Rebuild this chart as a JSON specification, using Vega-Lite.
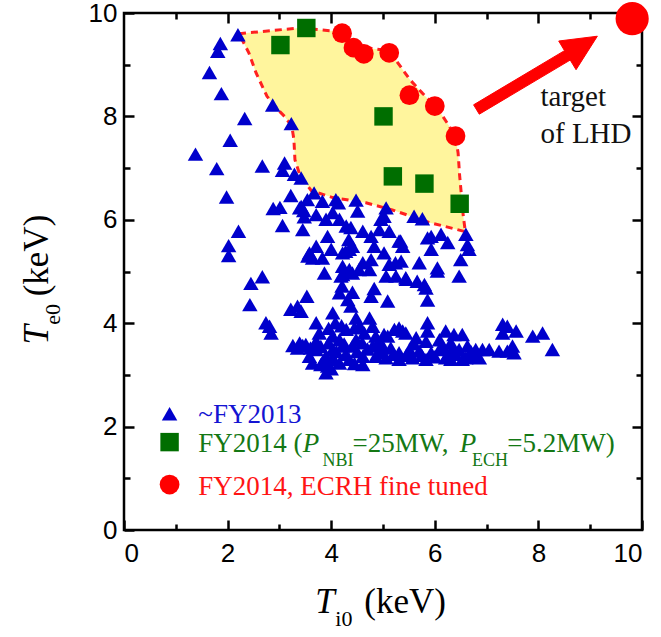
{
  "$schema": "https://vega.github.io/schema/vega-lite/v6.json",
  "width": 518,
  "height": 517,
  "autosize": {"type": "none"},
  "padding": {"left": 124, "top": 13, "right": 19, "bottom": 107},
  "background": "white",
  "config": {
    "view": {"stroke": "black", "strokeWidth": 2.5},
    "axis": {"grid": false, "domain": false, "tickColor": "black", "tickWidth": 2.5, "labelFont": "Liberation Sans", "labelFontSize": 26, "labelColor": "black", "zindex": 1}
  },
  "datasets": {
    "region": [
      {"k": 1, "Ti0": 2.22, "Te0": 9.60}, {"k": 2, "Ti0": 3.38, "Te0": 9.71}, {"k": 3, "Ti0": 4.07, "Te0": 9.65},
      {"k": 4, "Ti0": 4.48, "Te0": 9.35}, {"k": 5, "Ti0": 4.97, "Te0": 9.29}, {"k": 6, "Ti0": 5.24, "Te0": 9.10},
      {"k": 7, "Ti0": 5.52, "Te0": 8.71}, {"k": 8, "Ti0": 5.76, "Te0": 8.45}, {"k": 9, "Ti0": 6.07, "Te0": 8.13},
      {"k": 10, "Ti0": 6.28, "Te0": 7.81}, {"k": 11, "Ti0": 6.41, "Te0": 7.55}, {"k": 12, "Ti0": 6.45, "Te0": 7.29},
      {"k": 13, "Ti0": 6.48, "Te0": 6.85}, {"k": 14, "Ti0": 6.55, "Te0": 6.07}, {"k": 15, "Ti0": 6.59, "Te0": 5.77},
      {"k": 16, "Ti0": 5.89, "Te0": 5.95}, {"k": 17, "Ti0": 5.18, "Te0": 6.19}, {"k": 18, "Ti0": 4.67, "Te0": 6.33},
      {"k": 19, "Ti0": 4.03, "Te0": 6.43}, {"k": 20, "Ti0": 3.62, "Te0": 6.56}, {"k": 21, "Ti0": 3.40, "Te0": 6.85},
      {"k": 22, "Ti0": 3.30, "Te0": 7.16}, {"k": 23, "Ti0": 3.28, "Te0": 7.55}, {"k": 24, "Ti0": 3.24, "Te0": 7.81},
      {"k": 25, "Ti0": 3.10, "Te0": 8.00}, {"k": 26, "Ti0": 2.97, "Te0": 8.13}, {"k": 27, "Ti0": 2.76, "Te0": 8.39},
      {"k": 28, "Ti0": 2.55, "Te0": 8.84}, {"k": 29, "Ti0": 2.41, "Te0": 9.23}, {"k": 30, "Ti0": 2.22, "Te0": 9.60}
    ],
    "arrow": [
      {"k": 1, "Ti0": 6.749, "Te0": 8.224}, {"k": 2, "Ti0": 8.504, "Te0": 9.272}, {"k": 3, "Ti0": 8.392, "Te0": 9.458},
      {"k": 4, "Ti0": 9.138, "Te0": 9.551}, {"k": 5, "Ti0": 8.727, "Te0": 8.903}, {"k": 6, "Ti0": 8.614, "Te0": 9.090},
      {"k": 7, "Ti0": 6.859, "Te0": 8.043}, {"k": 8, "Ti0": 6.749, "Te0": 8.224}
    ],
    "shots": [
      {"Ti0": 2.20, "Te0": 9.58, "series": "~FY2013"}, {"Ti0": 1.86, "Te0": 9.41, "series": "~FY2013"}, {"Ti0": 1.81, "Te0": 9.26, "series": "~FY2013"},
      {"Ti0": 1.65, "Te0": 8.85, "series": "~FY2013"}, {"Ti0": 1.88, "Te0": 8.44, "series": "~FY2013"}, {"Ti0": 2.87, "Te0": 8.22, "series": "~FY2013"},
      {"Ti0": 3.23, "Te0": 7.86, "series": "~FY2013"}, {"Ti0": 2.33, "Te0": 7.96, "series": "~FY2013"}, {"Ti0": 2.05, "Te0": 7.54, "series": "~FY2013"},
      {"Ti0": 1.38, "Te0": 7.27, "series": "~FY2013"}, {"Ti0": 1.79, "Te0": 6.99, "series": "~FY2013"}, {"Ti0": 2.67, "Te0": 7.04, "series": "~FY2013"},
      {"Ti0": 3.10, "Te0": 7.10, "series": "~FY2013"}, {"Ti0": 3.06, "Te0": 6.96, "series": "~FY2013"}, {"Ti0": 3.29, "Te0": 6.88, "series": "~FY2013"},
      {"Ti0": 1.98, "Te0": 6.44, "series": "~FY2013"}, {"Ti0": 3.22, "Te0": 6.47, "series": "~FY2013"}, {"Ti0": 2.88, "Te0": 6.22, "series": "~FY2013"},
      {"Ti0": 3.01, "Te0": 6.24, "series": "~FY2013"}, {"Ti0": 3.39, "Te0": 6.23, "series": "~FY2013"}, {"Ti0": 3.48, "Te0": 6.06, "series": "~FY2013"},
      {"Ti0": 3.06, "Te0": 5.89, "series": "~FY2013"}, {"Ti0": 2.21, "Te0": 5.78, "series": "~FY2013"}, {"Ti0": 2.02, "Te0": 5.50, "series": "~FY2013"},
      {"Ti0": 2.02, "Te0": 5.31, "series": "~FY2013"}, {"Ti0": 3.55, "Te0": 5.30, "series": "~FY2013"}, {"Ti0": 3.54, "Te0": 6.39, "series": "~FY2013"},
      {"Ti0": 3.42, "Te0": 6.81, "series": "~FY2013"}, {"Ti0": 3.67, "Te0": 6.52, "series": "~FY2013"}, {"Ti0": 3.83, "Te0": 6.36, "series": "~FY2013"},
      {"Ti0": 4.09, "Te0": 6.39, "series": "~FY2013"}, {"Ti0": 4.14, "Te0": 6.33, "series": "~FY2013"}, {"Ti0": 4.48, "Te0": 6.38, "series": "~FY2013"},
      {"Ti0": 4.51, "Te0": 6.17, "series": "~FY2013"}, {"Ti0": 5.06, "Te0": 6.23, "series": "~FY2013"}, {"Ti0": 5.02, "Te0": 6.07, "series": "~FY2013"},
      {"Ti0": 5.60, "Te0": 6.07, "series": "~FY2013"}, {"Ti0": 5.76, "Te0": 6.02, "series": "~FY2013"}, {"Ti0": 3.47, "Te0": 6.18, "series": "~FY2013"},
      {"Ti0": 3.71, "Te0": 6.10, "series": "~FY2013"}, {"Ti0": 3.90, "Te0": 6.01, "series": "~FY2013"}, {"Ti0": 4.03, "Te0": 6.14, "series": "~FY2013"},
      {"Ti0": 4.16, "Te0": 6.01, "series": "~FY2013"}, {"Ti0": 4.29, "Te0": 5.88, "series": "~FY2013"}, {"Ti0": 4.38, "Te0": 5.85, "series": "~FY2013"},
      {"Ti0": 4.61, "Te0": 5.78, "series": "~FY2013"}, {"Ti0": 4.93, "Te0": 5.81, "series": "~FY2013"}, {"Ti0": 5.12, "Te0": 5.78, "series": "~FY2013"},
      {"Ti0": 4.96, "Te0": 6.01, "series": "~FY2013"}, {"Ti0": 5.31, "Te0": 5.59, "series": "~FY2013"}, {"Ti0": 5.93, "Te0": 5.68, "series": "~FY2013"},
      {"Ti0": 6.12, "Te0": 5.72, "series": "~FY2013"}, {"Ti0": 6.25, "Te0": 5.56, "series": "~FY2013"}, {"Ti0": 6.60, "Te0": 5.72, "series": "~FY2013"},
      {"Ti0": 6.63, "Te0": 5.52, "series": "~FY2013"}, {"Ti0": 6.66, "Te0": 5.43, "series": "~FY2013"}, {"Ti0": 5.93, "Te0": 5.43, "series": "~FY2013"},
      {"Ti0": 6.50, "Te0": 5.23, "series": "~FY2013"}, {"Ti0": 6.05, "Te0": 5.07, "series": "~FY2013"}, {"Ti0": 5.70, "Te0": 5.17, "series": "~FY2013"},
      {"Ti0": 5.35, "Te0": 5.20, "series": "~FY2013"}, {"Ti0": 5.12, "Te0": 5.14, "series": "~FY2013"}, {"Ti0": 5.02, "Te0": 5.36, "series": "~FY2013"},
      {"Ti0": 4.83, "Te0": 5.49, "series": "~FY2013"}, {"Ti0": 4.77, "Te0": 5.68, "series": "~FY2013"}, {"Ti0": 4.61, "Te0": 5.17, "series": "~FY2013"},
      {"Ti0": 4.54, "Te0": 5.04, "series": "~FY2013"}, {"Ti0": 4.35, "Te0": 5.04, "series": "~FY2013"}, {"Ti0": 4.35, "Te0": 5.43, "series": "~FY2013"},
      {"Ti0": 4.22, "Te0": 5.10, "series": "~FY2013"}, {"Ti0": 4.00, "Te0": 5.43, "series": "~FY2013"}, {"Ti0": 3.93, "Te0": 5.68, "series": "~FY2013"},
      {"Ti0": 3.71, "Te0": 5.49, "series": "~FY2013"}, {"Ti0": 3.58, "Te0": 5.36, "series": "~FY2013"}, {"Ti0": 3.64, "Te0": 5.26, "series": "~FY2013"},
      {"Ti0": 3.83, "Te0": 5.26, "series": "~FY2013"}, {"Ti0": 3.87, "Te0": 4.97, "series": "~FY2013"}, {"Ti0": 4.22, "Te0": 5.36, "series": "~FY2013"},
      {"Ti0": 4.74, "Te0": 5.04, "series": "~FY2013"}, {"Ti0": 5.06, "Te0": 4.91, "series": "~FY2013"}, {"Ti0": 6.47, "Te0": 4.91, "series": "~FY2013"},
      {"Ti0": 4.19, "Te0": 4.91, "series": "~FY2013"}, {"Ti0": 4.77, "Te0": 5.23, "series": "~FY2013"}, {"Ti0": 3.45, "Te0": 5.81, "series": "~FY2013"},
      {"Ti0": 3.42, "Te0": 6.26, "series": "~FY2013"}, {"Ti0": 4.28, "Te0": 5.39, "series": "~FY2013"}, {"Ti0": 4.41, "Te0": 5.49, "series": "~FY2013"},
      {"Ti0": 4.34, "Te0": 5.62, "series": "~FY2013"}, {"Ti0": 5.24, "Te0": 5.17, "series": "~FY2013"}, {"Ti0": 5.45, "Te0": 4.85, "series": "~FY2013"},
      {"Ti0": 5.66, "Te0": 4.81, "series": "~FY2013"}, {"Ti0": 5.34, "Te0": 5.59, "series": "~FY2013"}, {"Ti0": 5.38, "Te0": 5.49, "series": "~FY2013"},
      {"Ti0": 5.86, "Te0": 5.65, "series": "~FY2013"}, {"Ti0": 2.67, "Te0": 4.90, "series": "~FY2013"}, {"Ti0": 2.45, "Te0": 4.77, "series": "~FY2013"},
      {"Ti0": 2.43, "Te0": 4.36, "series": "~FY2013"}, {"Ti0": 3.53, "Te0": 4.52, "series": "~FY2013"}, {"Ti0": 3.22, "Te0": 4.27, "series": "~FY2013"},
      {"Ti0": 3.35, "Te0": 4.33, "series": "~FY2013"}, {"Ti0": 3.42, "Te0": 4.23, "series": "~FY2013"}, {"Ti0": 2.74, "Te0": 4.01, "series": "~FY2013"},
      {"Ti0": 2.81, "Te0": 3.94, "series": "~FY2013"}, {"Ti0": 2.84, "Te0": 3.81, "series": "~FY2013"}, {"Ti0": 3.71, "Te0": 4.01, "series": "~FY2013"},
      {"Ti0": 3.71, "Te0": 3.65, "series": "~FY2013"}, {"Ti0": 3.26, "Te0": 3.57, "series": "~FY2013"}, {"Ti0": 3.45, "Te0": 3.57, "series": "~FY2013"},
      {"Ti0": 3.58, "Te0": 3.36, "series": "~FY2013"}, {"Ti0": 3.64, "Te0": 3.23, "series": "~FY2013"}, {"Ti0": 3.35, "Te0": 3.52, "series": "~FY2013"},
      {"Ti0": 4.22, "Te0": 4.94, "series": "~FY2013"}, {"Ti0": 4.41, "Te0": 4.97, "series": "~FY2013"}, {"Ti0": 5.25, "Te0": 4.91, "series": "~FY2013"},
      {"Ti0": 5.44, "Te0": 4.88, "series": "~FY2013"}, {"Ti0": 5.80, "Te0": 4.75, "series": "~FY2013"}, {"Ti0": 5.83, "Te0": 4.68, "series": "~FY2013"},
      {"Ti0": 6.05, "Te0": 5.01, "series": "~FY2013"}, {"Ti0": 4.16, "Te0": 4.59, "series": "~FY2013"}, {"Ti0": 4.41, "Te0": 4.60, "series": "~FY2013"},
      {"Ti0": 4.83, "Te0": 4.67, "series": "~FY2013"}, {"Ti0": 4.77, "Te0": 4.52, "series": "~FY2013"}, {"Ti0": 4.32, "Te0": 4.46, "series": "~FY2013"},
      {"Ti0": 4.38, "Te0": 4.33, "series": "~FY2013"}, {"Ti0": 5.09, "Te0": 4.43, "series": "~FY2013"}, {"Ti0": 5.86, "Te0": 4.45, "series": "~FY2013"},
      {"Ti0": 4.03, "Te0": 4.20, "series": "~FY2013"}, {"Ti0": 4.08, "Te0": 4.01, "series": "~FY2013"}, {"Ti0": 4.48, "Te0": 4.10, "series": "~FY2013"},
      {"Ti0": 4.74, "Te0": 4.10, "series": "~FY2013"}, {"Ti0": 5.86, "Te0": 4.01, "series": "~FY2013"}, {"Ti0": 4.21, "Te0": 4.72, "series": "~FY2013"},
      {"Ti0": 3.77, "Te0": 3.81, "series": "~FY2013"}, {"Ti0": 4.03, "Te0": 3.75, "series": "~FY2013"}, {"Ti0": 4.29, "Te0": 3.88, "series": "~FY2013"},
      {"Ti0": 4.45, "Te0": 3.91, "series": "~FY2013"}, {"Ti0": 4.64, "Te0": 3.81, "series": "~FY2013"}, {"Ti0": 4.86, "Te0": 3.75, "series": "~FY2013"},
      {"Ti0": 5.02, "Te0": 3.78, "series": "~FY2013"}, {"Ti0": 5.22, "Te0": 3.88, "series": "~FY2013"}, {"Ti0": 5.31, "Te0": 3.91, "series": "~FY2013"},
      {"Ti0": 5.44, "Te0": 3.81, "series": "~FY2013"}, {"Ti0": 5.64, "Te0": 3.72, "series": "~FY2013"}, {"Ti0": 5.86, "Te0": 3.85, "series": "~FY2013"},
      {"Ti0": 6.21, "Te0": 3.85, "series": "~FY2013"}, {"Ti0": 6.37, "Te0": 3.78, "series": "~FY2013"}, {"Ti0": 6.53, "Te0": 3.78, "series": "~FY2013"},
      {"Ti0": 6.79, "Te0": 3.49, "series": "~FY2013"}, {"Ti0": 3.51, "Te0": 3.59, "series": "~FY2013"}, {"Ti0": 3.71, "Te0": 3.49, "series": "~FY2013"},
      {"Ti0": 3.90, "Te0": 3.36, "series": "~FY2013"}, {"Ti0": 4.03, "Te0": 3.49, "series": "~FY2013"}, {"Ti0": 4.22, "Te0": 3.56, "series": "~FY2013"},
      {"Ti0": 4.41, "Te0": 3.56, "series": "~FY2013"}, {"Ti0": 4.61, "Te0": 3.36, "series": "~FY2013"}, {"Ti0": 4.80, "Te0": 3.56, "series": "~FY2013"},
      {"Ti0": 4.96, "Te0": 3.43, "series": "~FY2013"}, {"Ti0": 5.15, "Te0": 3.52, "series": "~FY2013"}, {"Ti0": 5.31, "Te0": 3.43, "series": "~FY2013"},
      {"Ti0": 5.51, "Te0": 3.49, "series": "~FY2013"}, {"Ti0": 5.70, "Te0": 3.46, "series": "~FY2013"}, {"Ti0": 5.93, "Te0": 3.43, "series": "~FY2013"},
      {"Ti0": 6.09, "Te0": 3.49, "series": "~FY2013"}, {"Ti0": 6.25, "Te0": 3.40, "series": "~FY2013"}, {"Ti0": 6.47, "Te0": 3.49, "series": "~FY2013"},
      {"Ti0": 6.60, "Te0": 3.33, "series": "~FY2013"}, {"Ti0": 6.76, "Te0": 3.36, "series": "~FY2013"}, {"Ti0": 3.90, "Te0": 3.04, "series": "~FY2013"},
      {"Ti0": 3.93, "Te0": 3.17, "series": "~FY2013"}, {"Ti0": 4.16, "Te0": 3.23, "series": "~FY2013"}, {"Ti0": 4.35, "Te0": 3.30, "series": "~FY2013"},
      {"Ti0": 4.61, "Te0": 3.20, "series": "~FY2013"}, {"Ti0": 4.86, "Te0": 3.36, "series": "~FY2013"}, {"Ti0": 5.06, "Te0": 3.33, "series": "~FY2013"},
      {"Ti0": 5.31, "Te0": 3.30, "series": "~FY2013"}, {"Ti0": 5.57, "Te0": 3.33, "series": "~FY2013"}, {"Ti0": 5.83, "Te0": 3.30, "series": "~FY2013"},
      {"Ti0": 6.21, "Te0": 3.33, "series": "~FY2013"}, {"Ti0": 6.53, "Te0": 3.30, "series": "~FY2013"}, {"Ti0": 4.80, "Te0": 3.94, "series": "~FY2013"},
      {"Ti0": 5.09, "Te0": 3.75, "series": "~FY2013"}, {"Ti0": 6.09, "Te0": 3.68, "series": "~FY2013"}, {"Ti0": 6.31, "Te0": 3.62, "series": "~FY2013"},
      {"Ti0": 6.63, "Te0": 3.56, "series": "~FY2013"}, {"Ti0": 5.83, "Te0": 3.65, "series": "~FY2013"}, {"Ti0": 4.48, "Te0": 3.68, "series": "~FY2013"},
      {"Ti0": 4.16, "Te0": 3.68, "series": "~FY2013"}, {"Ti0": 3.39, "Te0": 3.62, "series": "~FY2013"}, {"Ti0": 5.38, "Te0": 3.85, "series": "~FY2013"},
      {"Ti0": 7.31, "Te0": 3.98, "series": "~FY2013"}, {"Ti0": 7.40, "Te0": 3.94, "series": "~FY2013"}, {"Ti0": 7.31, "Te0": 3.81, "series": "~FY2013"},
      {"Ti0": 7.57, "Te0": 3.85, "series": "~FY2013"}, {"Ti0": 7.89, "Te0": 3.75, "series": "~FY2013"}, {"Ti0": 8.08, "Te0": 3.81, "series": "~FY2013"},
      {"Ti0": 8.27, "Te0": 3.49, "series": "~FY2013"}, {"Ti0": 6.92, "Te0": 3.49, "series": "~FY2013"}, {"Ti0": 7.05, "Te0": 3.49, "series": "~FY2013"},
      {"Ti0": 7.24, "Te0": 3.46, "series": "~FY2013"}, {"Ti0": 7.40, "Te0": 3.46, "series": "~FY2013"}, {"Ti0": 7.50, "Te0": 3.56, "series": "~FY2013"},
      {"Ti0": 7.53, "Te0": 3.43, "series": "~FY2013"}, {"Ti0": 6.34, "Te0": 3.49, "series": "~FY2013"}, {"Ti0": 6.31, "Te0": 3.30, "series": "~FY2013"},
      {"Ti0": 6.86, "Te0": 3.33, "series": "~FY2013"}, {"Ti0": 3.80, "Te0": 3.55, "series": "~FY2013"}, {"Ti0": 3.95, "Te0": 3.62, "series": "~FY2013"},
      {"Ti0": 4.10, "Te0": 3.45, "series": "~FY2013"}, {"Ti0": 4.28, "Te0": 3.40, "series": "~FY2013"}, {"Ti0": 4.50, "Te0": 3.45, "series": "~FY2013"},
      {"Ti0": 4.70, "Te0": 3.50, "series": "~FY2013"}, {"Ti0": 3.85, "Te0": 3.28, "series": "~FY2013"}, {"Ti0": 4.05, "Te0": 3.30, "series": "~FY2013"},
      {"Ti0": 4.45, "Te0": 3.22, "series": "~FY2013"}, {"Ti0": 4.00, "Te0": 3.12, "series": "~FY2013"}, {"Ti0": 3.80, "Te0": 3.20, "series": "~FY2013"},
      {"Ti0": 4.25, "Te0": 3.60, "series": "~FY2013"}, {"Ti0": 3.60, "Te0": 3.52, "series": "~FY2013"}, {"Ti0": 4.60, "Te0": 3.62, "series": "~FY2013"},
      {"Ti0": 5.00, "Te0": 3.55, "series": "~FY2013"}, {"Ti0": 5.20, "Te0": 3.40, "series": "~FY2013"}, {"Ti0": 5.45, "Te0": 3.38, "series": "~FY2013"},
      {"Ti0": 5.75, "Te0": 3.38, "series": "~FY2013"}, {"Ti0": 6.00, "Te0": 3.35, "series": "~FY2013"}, {"Ti0": 6.15, "Te0": 3.55, "series": "~FY2013"},
      {"Ti0": 6.40, "Te0": 3.40, "series": "~FY2013"}, {"Ti0": 6.70, "Te0": 3.45, "series": "~FY2013"}, {"Ti0": 5.60, "Te0": 3.60, "series": "~FY2013"},
      {"Ti0": 4.90, "Te0": 3.62, "series": "~FY2013"}, {"Ti0": 4.20, "Te0": 3.95, "series": "~FY2013"}, {"Ti0": 3.95, "Te0": 3.90, "series": "~FY2013"},
      {"Ti0": 4.55, "Te0": 3.95, "series": "~FY2013"},
      {"Ti0": 3.02, "Te0": 9.38, "series": "FY2014"}, {"Ti0": 3.52, "Te0": 9.71, "series": "FY2014"}, {"Ti0": 5.01, "Te0": 8.00, "series": "FY2014"},
      {"Ti0": 5.19, "Te0": 6.84, "series": "FY2014"}, {"Ti0": 5.80, "Te0": 6.70, "series": "FY2014"}, {"Ti0": 6.48, "Te0": 6.31, "series": "FY2014"},
      {"Ti0": 4.21, "Te0": 9.61, "series": "FY2014, ECRH fine tuned"}, {"Ti0": 4.43, "Te0": 9.33, "series": "FY2014, ECRH fine tuned"},
      {"Ti0": 4.63, "Te0": 9.21, "series": "FY2014, ECRH fine tuned"}, {"Ti0": 5.12, "Te0": 9.23, "series": "FY2014, ECRH fine tuned"},
      {"Ti0": 5.51, "Te0": 8.41, "series": "FY2014, ECRH fine tuned"}, {"Ti0": 6.00, "Te0": 8.20, "series": "FY2014, ECRH fine tuned"},
      {"Ti0": 6.40, "Te0": 7.62, "series": "FY2014, ECRH fine tuned"},
      {"Ti0": 9.81, "Te0": 9.89, "series": "target of LHD"}
    ],
    "keys": [
      {"Ti0": 0.88, "Te0": 2.25, "series": "~FY2013"},
      {"Ti0": 0.88, "Te0": 1.70, "series": "FY2014"},
      {"Ti0": 0.88, "Te0": 0.88, "series": "FY2014, ECRH fine tuned"}
    ],
    "labels": [
      {"kind": "blue", "Ti0": 1.435, "Te0": 2.06, "text": "~FY2013"},
      {"kind": "green", "Ti0": 1.435, "Te0": 1.50, "text": "FY2014 ("},
      {"kind": "green-it", "Ti0": 3.45, "Te0": 1.50, "text": "P"},
      {"kind": "green-sub", "Ti0": 3.83, "Te0": 1.23, "text": "NBI"},
      {"kind": "green", "Ti0": 4.41, "Te0": 1.50, "text": "=25MW,"},
      {"kind": "green-it", "Ti0": 6.48, "Te0": 1.50, "text": "P"},
      {"kind": "green-sub", "Ti0": 6.72, "Te0": 1.23, "text": "ECH"},
      {"kind": "green", "Ti0": 7.40, "Te0": 1.50, "text": "=5.2MW)"},
      {"kind": "red", "Ti0": 1.435, "Te0": 0.67, "text": "FY2014, ECRH fine tuned"},
      {"kind": "note", "Ti0": 8.04, "Te0": 8.197, "text": "target"},
      {"kind": "note", "Ti0": 8.04, "Te0": 7.476, "text": "of LHD"},
      {"kind": "xt-it", "Ti0": 3.69, "Te0": -1.60, "text": "T"},
      {"kind": "xt-sub", "Ti0": 4.08, "Te0": -1.86, "text": "i0"},
      {"kind": "xt", "Ti0": 4.64, "Te0": -1.60, "text": "(keV)"},
      {"kind": "yt-it", "Ti0": -1.475, "Te0": 3.59, "text": "T"},
      {"kind": "yt-sub", "Ti0": -1.24, "Te0": 3.97, "text": "e0"},
      {"kind": "yt", "Ti0": -1.475, "Te0": 4.52, "text": "(keV)"}
    ]
  },
  "layer": [
    {
      "data": {"name": "region"},
      "mark": {"type": "line", "fill": "#FFF59D", "stroke": "#FF2020", "strokeWidth": 3, "strokeDash": [7, 5]},
      "encoding": {
        "x": {"field": "Ti0", "type": "quantitative", "scale": {"domain": [0, 10], "nice": false, "zero": false},
              "axis": {"orient": "bottom", "title": null, "values": [0, 2, 4, 6, 8, 10], "tickSize": -10, "labelPadding": 20}},
        "y": {"field": "Te0", "type": "quantitative", "scale": {"domain": [0, 10], "nice": false, "zero": false},
              "axis": {"orient": "left", "title": null, "values": [0, 2, 4, 6, 8, 10], "tickSize": -10, "labelPadding": 17}},
        "order": {"field": "k", "type": "quantitative"}
      }
    },
    {
      "data": {"name": "arrow"},
      "mark": {"type": "line", "fill": "#FF0000", "stroke": "#FF0000", "strokeWidth": 1},
      "encoding": {
        "x": {"field": "Ti0", "type": "quantitative",
              "axis": {"orient": "top", "title": null, "values": [2, 4, 6, 8], "tickSize": -10, "labels": false}},
        "y": {"field": "Te0", "type": "quantitative",
              "axis": {"orient": "right", "title": null, "values": [2, 4, 6, 8], "tickSize": -10, "labels": false}},
        "order": {"field": "k", "type": "quantitative"}
      }
    },
    {
      "data": {"name": "shots"},
      "mark": {"type": "point", "filled": true, "opacity": 1, "strokeWidth": 0},
      "encoding": {
        "x": {"field": "Ti0", "type": "quantitative",
              "axis": {"orient": "bottom", "title": null, "values": [1, 3, 5, 7, 9], "tickSize": -6, "labels": false}},
        "y": {"field": "Te0", "type": "quantitative",
              "axis": {"orient": "left", "title": null, "values": [1, 3, 5, 7, 9], "tickSize": -6, "labels": false}},
        "shape": {"field": "series", "type": "nominal", "legend": null,
                  "scale": {"domain": ["~FY2013", "FY2014", "FY2014, ECRH fine tuned", "target of LHD"], "range": ["triangle-up", "square", "circle", "circle"]}},
        "color": {"field": "series", "type": "nominal", "legend": null,
                  "scale": {"domain": ["~FY2013", "FY2014", "FY2014, ECRH fine tuned", "target of LHD"], "range": ["#0000CC", "#006E00", "#FF0000", "#FF0000"]}},
        "size": {"field": "series", "type": "nominal", "legend": null,
                 "scale": {"type": "ordinal", "domain": ["~FY2013", "FY2014", "FY2014, ECRH fine tuned", "target of LHD"], "range": [240, 340, 390, 1100]}}
      }
    },
    {
      "data": {"name": "keys"},
      "mark": {"type": "point", "filled": true, "opacity": 1, "strokeWidth": 0},
      "encoding": {
        "x": {"field": "Ti0", "type": "quantitative",
              "axis": {"orient": "top", "title": null, "values": [1, 3, 5, 7, 9], "tickSize": -6, "labels": false}},
        "y": {"field": "Te0", "type": "quantitative",
              "axis": {"orient": "right", "title": null, "values": [1, 3, 5, 7, 9], "tickSize": -6, "labels": false}},
        "shape": {"field": "series", "type": "nominal", "legend": null,
                  "scale": {"domain": ["~FY2013", "FY2014", "FY2014, ECRH fine tuned", "target of LHD"], "range": ["triangle-up", "square", "circle", "circle"]}},
        "color": {"field": "series", "type": "nominal", "legend": null,
                  "scale": {"domain": ["~FY2013", "FY2014", "FY2014, ECRH fine tuned", "target of LHD"], "range": ["#0000CC", "#006E00", "#FF0000", "#FF0000"]}},
        "size": {"field": "series", "type": "nominal", "legend": null,
                 "scale": {"type": "ordinal", "domain": ["~FY2013", "FY2014", "FY2014, ECRH fine tuned", "target of LHD"], "range": [240, 340, 390, 1100]}}
      }
    },
    {
      "data": {"name": "labels"},
      "transform": [{"filter": "datum.kind === 'blue'"}],
      "mark": {"type": "text", "align": "left", "baseline": "alphabetic", "font": "Liberation Serif", "fontSize": 27, "color": "#1414D2"},
      "encoding": {"x": {"field": "Ti0", "type": "quantitative", "axis": null}, "y": {"field": "Te0", "type": "quantitative", "axis": null}, "text": {"field": "text"}}
    },
    {
      "data": {"name": "labels"},
      "transform": [{"filter": "datum.kind === 'green'"}],
      "mark": {"type": "text", "align": "left", "baseline": "alphabetic", "font": "Liberation Serif", "fontSize": 27, "color": "#147814"},
      "encoding": {"x": {"field": "Ti0", "type": "quantitative", "axis": null}, "y": {"field": "Te0", "type": "quantitative", "axis": null}, "text": {"field": "text"}}
    },
    {
      "data": {"name": "labels"},
      "transform": [{"filter": "datum.kind === 'green-it'"}],
      "mark": {"type": "text", "align": "left", "baseline": "alphabetic", "font": "Liberation Serif", "fontStyle": "italic", "fontSize": 27, "color": "#147814"},
      "encoding": {"x": {"field": "Ti0", "type": "quantitative", "axis": null}, "y": {"field": "Te0", "type": "quantitative", "axis": null}, "text": {"field": "text"}}
    },
    {
      "data": {"name": "labels"},
      "transform": [{"filter": "datum.kind === 'green-sub'"}],
      "mark": {"type": "text", "align": "left", "baseline": "alphabetic", "font": "Liberation Serif", "fontSize": 18, "color": "#147814"},
      "encoding": {"x": {"field": "Ti0", "type": "quantitative", "axis": null}, "y": {"field": "Te0", "type": "quantitative", "axis": null}, "text": {"field": "text"}}
    },
    {
      "data": {"name": "labels"},
      "transform": [{"filter": "datum.kind === 'red'"}],
      "mark": {"type": "text", "align": "left", "baseline": "alphabetic", "font": "Liberation Serif", "fontSize": 27, "color": "#FF1414"},
      "encoding": {"x": {"field": "Ti0", "type": "quantitative", "axis": null}, "y": {"field": "Te0", "type": "quantitative", "axis": null}, "text": {"field": "text"}}
    },
    {
      "data": {"name": "labels"},
      "transform": [{"filter": "datum.kind === 'note'"}],
      "mark": {"type": "text", "align": "left", "baseline": "alphabetic", "font": "Liberation Serif", "fontSize": 29, "color": "#111111"},
      "encoding": {"x": {"field": "Ti0", "type": "quantitative", "axis": null}, "y": {"field": "Te0", "type": "quantitative", "axis": null}, "text": {"field": "text"}}
    },
    {
      "data": {"name": "labels"},
      "transform": [{"filter": "datum.kind === 'xt'"}],
      "mark": {"type": "text", "align": "left", "baseline": "alphabetic", "font": "Liberation Serif", "fontSize": 35, "color": "black"},
      "encoding": {"x": {"field": "Ti0", "type": "quantitative", "axis": null}, "y": {"field": "Te0", "type": "quantitative", "axis": null}, "text": {"field": "text"}}
    },
    {
      "data": {"name": "labels"},
      "transform": [{"filter": "datum.kind === 'xt-it'"}],
      "mark": {"type": "text", "align": "left", "baseline": "alphabetic", "font": "Liberation Serif", "fontStyle": "italic", "fontSize": 35, "color": "black"},
      "encoding": {"x": {"field": "Ti0", "type": "quantitative", "axis": null}, "y": {"field": "Te0", "type": "quantitative", "axis": null}, "text": {"field": "text"}}
    },
    {
      "data": {"name": "labels"},
      "transform": [{"filter": "datum.kind === 'xt-sub'"}],
      "mark": {"type": "text", "align": "left", "baseline": "alphabetic", "font": "Liberation Serif", "fontSize": 22, "color": "black"},
      "encoding": {"x": {"field": "Ti0", "type": "quantitative", "axis": null}, "y": {"field": "Te0", "type": "quantitative", "axis": null}, "text": {"field": "text"}}
    },
    {
      "data": {"name": "labels"},
      "transform": [{"filter": "datum.kind === 'yt'"}],
      "mark": {"type": "text", "align": "left", "baseline": "alphabetic", "angle": 270, "font": "Liberation Serif", "fontSize": 35, "color": "black"},
      "encoding": {"x": {"field": "Ti0", "type": "quantitative", "axis": null}, "y": {"field": "Te0", "type": "quantitative", "axis": null}, "text": {"field": "text"}}
    },
    {
      "data": {"name": "labels"},
      "transform": [{"filter": "datum.kind === 'yt-it'"}],
      "mark": {"type": "text", "align": "left", "baseline": "alphabetic", "angle": 270, "font": "Liberation Serif", "fontStyle": "italic", "fontSize": 35, "color": "black"},
      "encoding": {"x": {"field": "Ti0", "type": "quantitative", "axis": null}, "y": {"field": "Te0", "type": "quantitative", "axis": null}, "text": {"field": "text"}}
    },
    {
      "data": {"name": "labels"},
      "transform": [{"filter": "datum.kind === 'yt-sub'"}],
      "mark": {"type": "text", "align": "left", "baseline": "alphabetic", "angle": 270, "font": "Liberation Serif", "fontSize": 22, "color": "black"},
      "encoding": {"x": {"field": "Ti0", "type": "quantitative", "axis": null}, "y": {"field": "Te0", "type": "quantitative", "axis": null}, "text": {"field": "text"}}
    }
  ]
}
